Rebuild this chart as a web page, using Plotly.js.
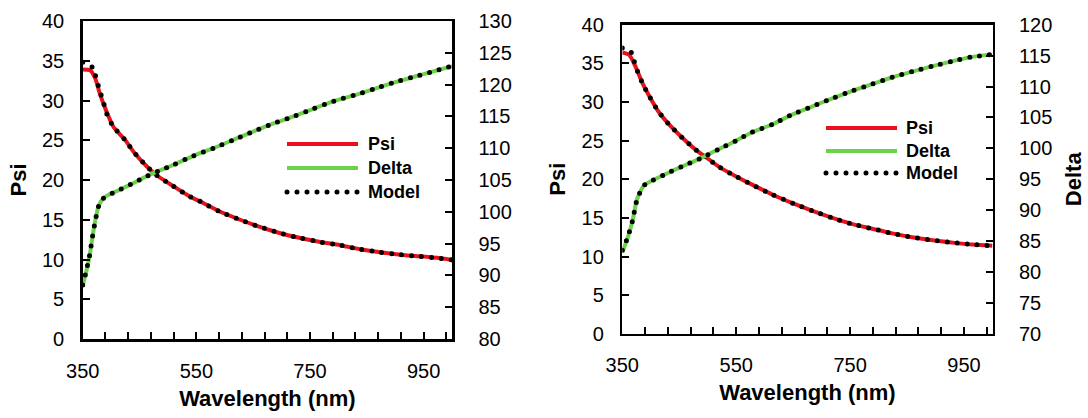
<!DOCTYPE html>
<html>
<head>
<meta charset="utf-8">
<script src="https://cdn.plot.ly/plotly-3.0.1.min.js"></script>
<style>
  html, body { margin: 0; padding: 0; background: #fff; }
  #chart { width: 1088px; height: 418px; }
  /* round dots for the dotted "Model" lines (Excel round-dot style) */
  .js-line[style*="dasharray"], .shapelayer path[style*="dasharray"] { stroke-linecap: round !important; }
</style>
</head>
<body>
<div id="chart"></div>
<script>
// ---------------- DATA ----------------
// Left sample
var wlPsiA    = [350, 363, 372, 380, 392, 404, 425, 439, 463, 480, 510, 539, 557, 592, 627, 662, 698, 733, 768, 803, 838, 874, 909, 944, 980, 1000];
var psiA      = [33.9, 33.8, 32.8, 30.9, 28.6, 26.7, 25.0, 23.6, 21.7, 20.6, 19.2, 17.9, 17.3, 16.0, 15.0, 14.1, 13.3, 12.7, 12.2, 11.8, 11.3, 10.9, 10.6, 10.4, 10.15, 9.95];
var wlDeltaA  = [350, 356, 362, 368, 373, 378, 385, 392, 416, 439, 463, 486, 510, 545, 580, 615, 651, 686, 721, 756, 792, 827, 862, 897, 932, 968, 1000];
var deltaA    = [88.4, 90.5, 93.0, 96.5, 99.0, 100.9, 102.0, 102.5, 103.5, 104.5, 105.6, 106.5, 107.4, 108.8, 110.0, 111.3, 112.65, 113.9, 115.0, 116.2, 117.4, 118.3, 119.3, 120.3, 121.2, 122.1, 122.9];
var modelWlPsiA = [350, 368, 374, 380, 386, 392, 404, 425, 439, 463, 480, 510, 539, 557, 592, 627, 662, 698, 733, 768, 803, 838, 874, 909, 944, 980, 1000];
var modelPsiA   = [34.8, 34.1, 32.7, 31.25, 29.9, 28.4, 26.7, 25.0, 23.6, 21.7, 20.6, 19.2, 17.9, 17.3, 16.0, 15.0, 14.1, 13.3, 12.7, 12.2, 11.8, 11.3, 10.9, 10.6, 10.4, 10.15, 9.95];
var modelWlDeltaA = [350, 356, 362, 368, 373, 378, 385, 392, 416, 439, 463, 486, 510, 545, 580, 615, 651, 686, 721, 756, 792, 827, 862, 897, 932, 968, 1000];
var modelDeltaA   = [88.5, 90.6, 93.1, 96.5, 99.0, 100.9, 102.0, 102.5, 103.5, 104.5, 105.6, 106.5, 107.4, 108.8, 110.0, 111.3, 112.65, 113.9, 115.0, 116.2, 117.4, 118.3, 119.3, 120.3, 121.2, 122.1, 122.9];

// Right sample
var wlPsiB    = [350, 362, 373, 385, 397, 414, 432, 455, 479, 496, 520, 549, 578, 614, 649, 684, 719, 754, 789, 824, 859, 895, 930, 965, 1000];
var psiB      = [36.4, 36.1, 34.6, 32.5, 30.8, 28.7, 27.1, 25.4, 23.8, 22.9, 21.6, 20.4, 19.3, 18.0, 16.9, 15.9, 15.0, 14.2, 13.6, 13.0, 12.5, 12.1, 11.8, 11.55, 11.4];
var wlDeltaB  = [350, 359, 368, 376, 388, 403, 432, 461, 490, 520, 549, 578, 614, 649, 684, 719, 754, 789, 824, 859, 895, 930, 965, 1000];
var deltaB    = [83.2, 85.4, 88.3, 91.8, 94.0, 94.8, 96.1, 97.3, 98.5, 99.9, 101.2, 102.6, 103.9, 105.5, 106.8, 108.1, 109.3, 110.4, 111.5, 112.4, 113.3, 114.1, 114.8, 115.2];
var modelWlPsiB = [350, 366, 373, 385, 397, 414, 432, 455, 479, 496, 520, 549, 578, 614, 649, 684, 719, 754, 789, 824, 859, 895, 930, 965, 1000];
var modelPsiB   = [37.0, 36.4, 34.7, 32.5, 30.8, 28.7, 27.1, 25.4, 23.8, 22.9, 21.6, 20.4, 19.3, 18.0, 16.9, 15.9, 15.0, 14.2, 13.6, 13.0, 12.5, 12.1, 11.8, 11.55, 11.4];
var modelWlDeltaB = [350, 359, 368, 376, 388, 403, 432, 461, 490, 520, 549, 578, 614, 649, 684, 719, 754, 789, 824, 859, 895, 930, 965, 1000];
var modelDeltaB   = [83.5, 85.5, 88.3, 91.8, 94.0, 94.8, 96.1, 97.3, 98.5, 99.9, 101.2, 102.6, 103.9, 105.5, 106.8, 108.1, 109.3, 110.4, 111.5, 112.4, 113.3, 114.1, 114.8, 115.2];

var seriesNames = ["Psi", "Delta", "Model"];
var xTitle = "Wavelength (nm)";
var psiTitle = "Psi";
var deltaTitle = "Delta";

// ---------------- STYLE ----------------
var W = 1088, H = 418;
var RED = "#e8121b", GREEN = "#6cd24c", BLACK = "#000000";
var FONT = "Liberation Sans, Arial, Helvetica, sans-serif";
function tickFont() { return {family: FONT, size: 20, color: "#000"}; }
function titleFont() { return {family: FONT, size: 22, color: "#000", weight: "bold"}; }
function legFont() { return {family: FONT, size: 18, color: "#000", weight: "bold"}; }
var DOT = "0px,10px";

function fx(px) { return px / W; }
function fy(py) { return 1 - py / H; }

var panels = [
  {x0: 82.7, x1: 452, yT: 21, yB: 339, dRange: [80, 130], showDeltaTitle: false,
   leg: {lx0: 287, lx1: 358, tx: 366, ys: [144, 168, 192]}},
  {x0: 622.3, x1: 992.5, yT: 24.7, yB: 333.8, dRange: [70, 120], showDeltaTitle: true,
   leg: {lx0: 826, lx1: 897, tx: 904, ys: [128, 151, 173]}}
];

function xAxis(p, yAnchor) {
  return {
    domain: [fx(p.x0), fx(p.x1)], anchor: yAnchor, range: [350, 1000],
    tick0: 350, dtick: 200, ticks: "inside", ticklen: 7, tickwidth: 2, tickcolor: "#000",
    minor: {tick0: 350, dtick: 40, ticks: "inside", ticklen: 7, tickwidth: 2, tickcolor: "#000"},
    showline: true, linewidth: 2.5, linecolor: "#000", mirror: true,
    showgrid: false, zeroline: false, tickfont: tickFont(), ticklabelstandoff: 12,
    title: {text: xTitle, font: titleFont(), standoff: 10}
  };
}
function yAxis(p, xAnchor, title) {
  return {
    domain: [fy(p.yB), fy(p.yT)], anchor: xAnchor, range: [0, 40], dtick: 5, tick0: 0,
    ticks: "inside", ticklen: 7, tickwidth: 2, tickcolor: "#000",
    showline: true, linewidth: 2.5, linecolor: "#000",
    showgrid: false, zeroline: false, tickfont: tickFont(), ticklabelstandoff: 12,
    title: {text: title, font: titleFont(), standoff: 10}
  };
}
function y2Axis(p, xAnchor, over, showTitle) {
  var a = {
    overlaying: over, side: "right", anchor: xAnchor, range: p.dRange, dtick: 5, tick0: 0,
    ticks: "inside", ticklen: 7, tickwidth: 2, tickcolor: "#000",
    showline: true, linewidth: 2.5, linecolor: "#000",
    showgrid: false, zeroline: false, tickfont: tickFont(), ticklabelstandoff: 20
  };
  if (showTitle) a.title = {text: deltaTitle, font: titleFont(), standoff: 14};
  return a;
}

function line(color, width, dash) {
  return {color: color, width: width, dash: dash || "solid", shape: "spline", smoothing: 0.6};
}

var traces = [
  // left panel
  {x: wlPsiA, y: psiA, xaxis: "x", yaxis: "y", mode: "lines", name: seriesNames[0], line: line(RED, 4)},
  {x: wlDeltaA, y: deltaA, xaxis: "x", yaxis: "y2", mode: "lines", name: seriesNames[1], line: line(GREEN, 4)},
  {x: modelWlPsiA, y: modelPsiA, xaxis: "x", yaxis: "y", mode: "lines", name: seriesNames[2], line: line(BLACK, 5, DOT)},
  {x: modelWlDeltaA, y: modelDeltaA, xaxis: "x", yaxis: "y2", mode: "lines", name: seriesNames[2], line: line(BLACK, 5, DOT)},
  // right panel
  {x: wlPsiB, y: psiB, xaxis: "x2", yaxis: "y3", mode: "lines", name: seriesNames[0], line: line(RED, 4)},
  {x: wlDeltaB, y: deltaB, xaxis: "x2", yaxis: "y4", mode: "lines", name: seriesNames[1], line: line(GREEN, 4)},
  {x: modelWlPsiB, y: modelPsiB, xaxis: "x2", yaxis: "y3", mode: "lines", name: seriesNames[2], line: line(BLACK, 5, DOT)},
  {x: modelWlDeltaB, y: modelDeltaB, xaxis: "x2", yaxis: "y4", mode: "lines", name: seriesNames[2], line: line(BLACK, 5, DOT)}
];

// custom legends (long sample lines, as in the reference)
var shapes = [], annotations = [];
var legStyles = [{color: RED, width: 4, dash: "solid"}, {color: GREEN, width: 4, dash: "solid"}, {color: BLACK, width: 5, dash: DOT}];
panels.forEach(function (p) {
  for (var i = 0; i < 3; i++) {
    shapes.push({type: "line", xref: "paper", yref: "paper",
      x0: fx(p.leg.lx0), x1: fx(p.leg.lx1), y0: fy(p.leg.ys[i]), y1: fy(p.leg.ys[i]),
      line: legStyles[i]});
    annotations.push({xref: "paper", yref: "paper", x: fx(p.leg.tx), y: fy(p.leg.ys[i]),
      xanchor: "left", yanchor: "middle", text: seriesNames[i], showarrow: false, font: legFont()});
  }
});

var layout = {
  width: W, height: H, margin: {l: 0, r: 0, t: 0, b: 0},
  paper_bgcolor: "#fff", plot_bgcolor: "rgba(0,0,0,0)", showlegend: false,
  xaxis: xAxis(panels[0], "y"),
  yaxis: yAxis(panels[0], "x", psiTitle),
  yaxis2: y2Axis(panels[0], "x", "y", false),
  xaxis2: xAxis(panels[1], "y3"),
  yaxis3: yAxis(panels[1], "x2", psiTitle),
  yaxis4: y2Axis(panels[1], "x2", "y3", true),
  shapes: shapes, annotations: annotations
};

Plotly.newPlot("chart", traces, layout, {staticPlot: true, displayModeBar: false});
</script>
</body>
</html>
